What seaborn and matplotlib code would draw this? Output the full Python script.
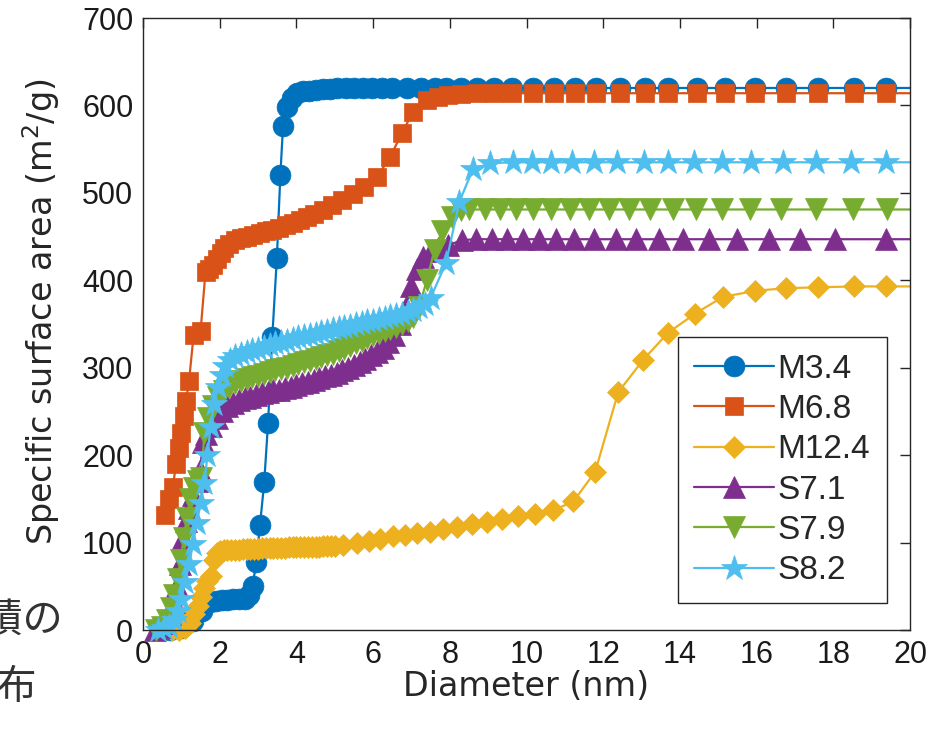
import matplotlib
matplotlib.use("Agg")
import matplotlib.pyplot as plt
import seaborn as sns

# M3.4
m34_x = [0.7, 1.0, 1.3, 1.55, 1.75, 1.9, 2.05, 2.2, 2.35, 2.5, 2.65, 2.77, 2.86, 2.95, 3.05,
         3.16, 3.26, 3.37, 3.49, 3.58, 3.65, 3.75, 3.88, 4.02, 4.17, 4.33, 4.5, 4.68, 4.87,
         5.07, 5.28, 5.5, 5.73, 5.97, 6.22, 6.48, 6.88, 7.25, 7.61, 7.9, 8.3, 8.71, 9.16,
         9.62, 10.17, 10.71, 11.26, 11.8, 12.44, 13.08, 13.7, 14.45, 15.18, 15.96, 16.77,
         17.6, 18.55, 19.36, 20.0]
m34_y = [0, 2, 10, 22, 32, 33, 34, 34, 35, 35, 36, 40, 50, 78, 120,
         169, 237, 335, 426, 520, 576, 598, 609, 614, 616, 617, 618, 619, 619,
         620, 620, 620, 620, 620, 620, 620, 620, 620, 620, 620, 620, 620, 620,
         620, 620, 620, 620, 620, 620, 620, 620, 620, 620, 620, 620,
         620, 620, 620, 620]

# M6.8
m68_x = [0.57, 0.68, 0.78, 0.86, 0.93, 1.0, 1.06, 1.12, 1.2, 1.32, 1.5, 1.63, 1.72, 1.82,
         1.92, 2.02, 2.12, 2.25, 2.4, 2.56, 2.72, 2.88, 3.04, 3.2, 3.37, 3.54, 3.72, 3.9,
         4.08, 4.27, 4.47, 4.69, 4.94, 5.2, 5.47, 5.76, 6.1, 6.44, 6.75, 7.04, 7.4, 7.7,
         7.95, 8.3, 8.71, 9.16, 9.62, 10.17, 10.71, 11.26, 11.8, 12.44, 13.08, 13.7, 14.45,
         15.18, 15.96, 16.77, 17.6, 18.55, 19.36, 20.0]
m68_y = [131, 150, 164, 190, 208, 225, 245, 262, 285, 338, 342, 410, 413, 418,
         424, 431, 437, 442, 446, 448, 450, 452, 454, 456, 458, 460, 463, 466,
         469, 472, 476, 480, 486, 492, 499, 507, 518, 541, 568, 593, 606, 610,
         612, 613, 614, 614, 614, 614, 614, 614, 614, 614, 614, 614, 614,
         614, 614, 614, 614, 614, 614, 614]

# M12.4
m124_x = [0.75, 0.95, 1.1, 1.22, 1.33, 1.43, 1.52, 1.6, 1.68, 1.76, 1.84, 1.92, 2.0, 2.1,
          2.2, 2.3, 2.4, 2.5, 2.6, 2.7, 2.8, 2.9, 3.0, 3.1, 3.2, 3.3, 3.4, 3.5, 3.6, 3.7,
          3.8, 3.9, 4.0, 4.1, 4.2, 4.3, 4.4, 4.5, 4.6, 4.7, 4.8, 4.9, 5.0, 5.22, 5.57, 5.88,
          6.18, 6.53, 6.83, 7.14, 7.48, 7.83, 8.18, 8.57, 8.96, 9.35, 9.79, 10.22, 10.7,
          11.22, 11.79, 12.39, 13.04, 13.69, 14.4, 15.12, 15.96, 16.77, 17.6, 18.55, 19.36,
          20.0]
m124_y = [0, 0, 2, 8, 18, 28, 38, 48, 56, 62, 80, 88, 90, 91,
          91, 92, 92, 92, 93, 93, 93, 93, 93, 94, 94, 94, 94, 94, 94, 94,
          95, 95, 95, 95, 95, 95, 95, 95, 95, 96, 96, 96, 96, 97, 100, 102,
          104, 107, 109, 111, 112, 115, 118, 121, 124, 127, 130, 133, 137,
          147, 181, 272, 309, 340, 362, 381, 388, 391, 392, 393, 393,
          393]

# S7.1
s71_x = [0.3, 0.45, 0.58, 0.7, 0.8, 0.88, 0.96, 1.04, 1.12, 1.2, 1.3, 1.4, 1.49, 1.56, 1.65,
         1.78, 1.92, 2.06, 2.2, 2.35, 2.5, 2.65, 2.8, 2.95, 3.1, 3.25, 3.4, 3.55, 3.7, 3.85,
         4.0, 4.15, 4.3, 4.45, 4.6, 4.75, 4.9, 5.05, 5.2, 5.35, 5.5, 5.65, 5.8, 5.95, 6.1,
         6.25, 6.4, 6.55, 6.7, 6.85, 7.0, 7.15, 7.3, 7.5, 7.7, 7.95, 8.32, 8.68, 9.09, 9.5,
         9.91, 10.32, 10.77, 11.23, 11.77, 12.32, 12.86, 13.45, 14.09, 14.77, 15.5, 16.32,
         17.14, 18.05, 19.36, 20.0]
s71_y = [0, 3, 8, 18, 32, 50, 75, 105, 125, 140, 155, 170, 183, 215, 224,
         233, 242, 250, 256, 260, 263, 265, 267, 269, 271, 272, 274, 275, 277, 278,
         280, 282, 284, 286, 288, 290, 292, 294, 297, 300, 303, 306, 310, 314, 318,
         323, 329, 337, 350, 370, 393, 413, 427, 434, 437, 440, 446, 447, 447, 447,
         447, 447, 447, 447, 447, 447, 447, 447, 447, 447, 447, 447,
         447, 447, 447, 447]

# S7.9
s79_x = [0.35, 0.5, 0.62, 0.72, 0.82, 0.9, 0.98, 1.06, 1.14, 1.23, 1.33, 1.43, 1.52, 1.6,
         1.7, 1.82, 1.95, 2.1, 2.25, 2.4, 2.55, 2.7, 2.85, 3.0, 3.15, 3.3, 3.45, 3.6, 3.75,
         3.9, 4.05, 4.2, 4.35, 4.5, 4.65, 4.8, 4.95, 5.1, 5.25, 5.4, 5.55, 5.7, 5.85, 6.0,
         6.15, 6.3, 6.45, 6.6, 6.75, 6.9, 7.05, 7.2, 7.4, 7.6, 7.8, 8.05, 8.3, 8.5, 8.91,
         9.32, 9.73, 10.18, 10.64, 11.14, 11.64, 12.14, 12.68, 13.23, 13.82, 14.41, 15.09,
         15.82, 16.64, 17.55, 18.5, 19.41, 20.0]
s79_y = [0, 4, 12, 25, 40, 58, 80, 105, 128, 150, 163, 170, 174, 225,
         242, 256, 266, 273, 278, 282, 285, 287, 289, 291, 293, 295, 297, 298, 300,
         302, 304, 306, 308, 310, 312, 314, 316, 319, 322, 325, 328, 331, 334, 337,
         340, 342, 344, 347, 350, 354, 358, 370, 400, 435, 456, 472, 480, 481, 481,
         481, 481, 481, 481, 481, 481, 481, 481, 481, 481, 481, 481,
         481, 481, 481, 481, 481, 481]

# S8.2
s82_x = [0.4, 0.55, 0.68, 0.8, 0.9, 1.0, 1.1, 1.2, 1.3, 1.4, 1.5, 1.6, 1.68, 1.76, 1.85,
         1.95, 2.05, 2.15, 2.27, 2.4, 2.55, 2.7, 2.85, 3.0, 3.15, 3.3, 3.45, 3.6, 3.75, 3.9,
         4.05, 4.2, 4.35, 4.5, 4.65, 4.8, 4.95, 5.1, 5.25, 5.4, 5.55, 5.7, 5.85, 6.0, 6.15,
         6.3, 6.45, 6.6, 6.75, 6.9, 7.05, 7.2, 7.35, 7.5, 7.9, 8.25, 8.6, 9.05, 9.64, 10.14,
         10.64, 11.18, 11.77, 12.36, 13.05, 13.68, 14.36, 15.09, 15.86, 16.68, 17.55, 18.45,
         19.36, 20.0]
s82_y = [0, 2, 5, 12, 22, 36, 55, 75, 98, 122, 145, 168, 200, 232, 258,
         278, 292, 302, 309, 313, 316, 318, 320, 322, 324, 326, 328, 330, 331, 333,
         335, 336, 338, 339, 341, 342, 344, 345, 347, 348, 350, 351, 353, 354, 356,
         357, 359, 360, 362, 364, 366, 369, 373, 380, 420, 490, 527, 534, 535, 535,
         535, 535, 535, 535, 535, 535, 535, 535, 535, 535, 535, 535,
         535, 535]

series = [
    ("M3.4", m34_x, m34_y, "#0072BD", "o", 15),
    ("M6.8", m68_x, m68_y, "#D95319", "s", 13),
    ("M12.4", m124_x, m124_y, "#EDB120", "D", 11),
    ("S7.1", s71_x, s71_y, "#7E2F8E", "^", 16),
    ("S7.9", s79_x, s79_y, "#77AC30", "v", 16),
    ("S8.2", s82_x, s82_y, "#4DBEEE", "*", 19),
]

sns.set_theme(style="white")
plt.rcParams["font.family"] = ["Liberation Sans", "Noto Sans CJK JP", "DejaVu Sans"]

fig = plt.figure(figsize=(9.46, 7.36), dpi=100)
ax = fig.add_axes([0.1512, 0.144, 0.8108, 0.8315])

for name, xs, ys, color, marker, size in series:
    assert len(xs) == len(ys), name
    sns.lineplot(
        x=xs, y=ys, ax=ax, color=color, label=name, marker=marker,
        markersize=size, markeredgecolor=color, markeredgewidth=0.5,
        linewidth=1.6, estimator=None, sort=False, clip_on=False,
        markevery=slice(0, len(xs) - 1),
    )

ax.set_xlim(0, 20)
ax.set_ylim(0, 700)
ax.set_xticks(range(0, 21, 2))
ax.set_yticks(range(0, 701, 100))
ax.tick_params(direction="in", top=True, right=True, length=7, width=1,
               labelsize=22, colors="#262626", pad=7)
ax.tick_params(labelcolor="#1a1a1a")
for s in ax.spines.values():
    s.set_color("#262626")
    s.set_linewidth(1)

ax.set_xlabel("Diameter (nm)", fontsize=24, color="#262626", family=["DejaVu Sans"])
ax.set_ylabel("Specific surface area (m$^2$/g)", fontsize=24, color="#262626",
              family=["DejaVu Sans"])
ax.xaxis.set_label_coords(0.5, -0.066)
ax.xaxis.label.set_va("top")
ax.yaxis.set_label_coords(-0.106, 0.52)

leg = ax.legend(loc="lower right", bbox_to_anchor=(0.97, 0.044), fontsize=24,
                frameon=True, fancybox=False, framealpha=1, edgecolor="#262626",
                handlelength=2.4, labelspacing=0.28, borderpad=0.5, handletextpad=0.1,
                borderaxespad=0)
leg.get_frame().set_linewidth(1)

# cropped caption fragments at the left edge
fig.text(63 / 946, 1 - 620 / 736, "面積の", fontsize=29, color="#333333",
         ha="right", va="center", family=["Noto Sans CJK JP"])
fig.text(37 / 946, 1 - 687 / 736, "分布", fontsize=29, color="#333333",
         ha="right", va="center", family=["Noto Sans CJK JP"])

fig.savefig("out.png", dpi=100)
